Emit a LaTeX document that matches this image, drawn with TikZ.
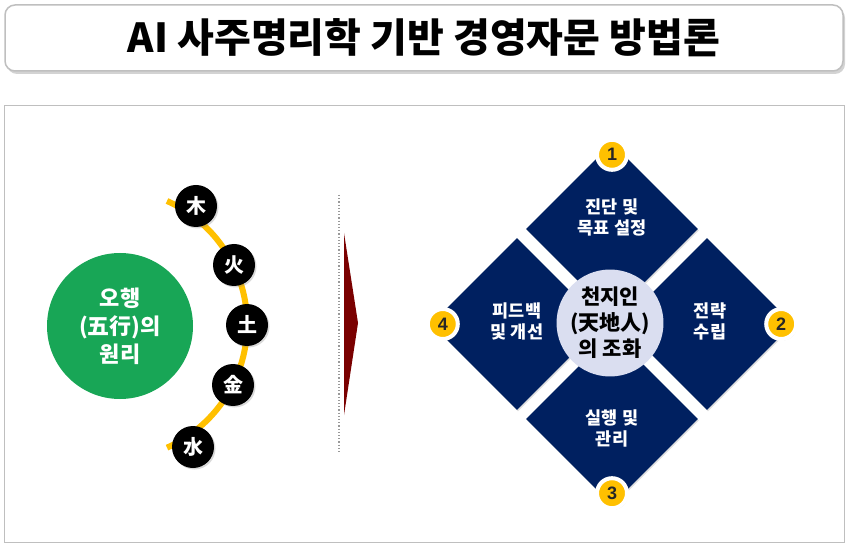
\documentclass[tikz,border=0pt]{standalone}
\usepackage{fontspec}
\setmainfont{Noto Sans CJK KR}
\newfontfamily\numfont{Liberation Sans}
\usepackage{tikz}
\usetikzlibrary{positioning,shapes.geometric,shadows}

\definecolor{navy}{HTML}{002060}
\definecolor{gold}{HTML}{FFC000}
\definecolor{leafgreen}{RGB}{24,166,86}
\definecolor{lavender}{RGB}{218,222,240}
\definecolor{darkred}{RGB}{122,0,0}
\definecolor{boxgray}{RGB}{191,191,191}
\definecolor{numdark}{RGB}{38,38,38}

\begin{document}
\begin{tikzpicture}[%
			x=1pt,
			y=1pt,
			titlebox/.style={%
				rounded corners=10pt,
				draw=boxgray,
				line width=1.5pt,
				fill=white,
				minimum width=838pt,
				minimum height=66pt,
				font=\fontsize{40}{40}\selectfont\bfseries,
				drop shadow={opacity=0.35,shadow xshift=2pt,shadow yshift=-3pt}
			},
			tile/.style={%
				diamond,
				aspect=1,
				minimum width=172pt,
				minimum height=172pt,
				inner sep=0pt,
				fill=navy,
				drop shadow={opacity=0.25,shadow xshift=1pt,shadow yshift=-1.5pt}
			},
			tiletext/.style={%
				text=white,
				align=center,
				font=\fontsize{17.5}{21}\selectfont\bfseries
			},
			elem/.style={%
				circle,
				fill=black,
				minimum size=42pt,
				inner sep=0pt,
				text=white,
				font=\fontsize{20}{20}\selectfont\bfseries,
				drop shadow={opacity=0.3,shadow xshift=1.5pt,shadow yshift=-1.5pt}
			},
			num/.style={%
				circle,
				fill=gold,
				draw=white,
				line width=4pt,
				minimum size=30pt,
				inner sep=0pt,
				text=numdark,
				font=\numfont\fontsize{18}{18}\selectfont\bfseries,
				drop shadow={opacity=0.3,shadow xshift=1pt,shadow yshift=-1.5pt}
			}
			]
			\useasboundingbox (0,0) rectangle (850,549);

			% title
			\node[titlebox] (t) at (424,511) {AI 사주명리학 기반 경영자문 방법론};
			\draw[boxgray, line width=1pt] (4,7) rectangle (844,443);

			% five elements
			\draw[gold, line width=6pt] (167,348) arc[start angle=66, end angle=-66, radius=135];
			\node[circle, fill=leafgreen, minimum size=146pt, text=white, align=center,
				font=\fontsize{22}{28}\selectfont\bfseries] (g) at (120,223) {오행\\(五行)의\\원리};
			\node[elem] (e1) at (196,343) {木};
			\node[elem] (e2) at (234,284) {火};
			\node[elem] (e3) at (247,224) {土};
			\node[elem] (e4) at (233,164) {金};
			\node[elem] (e5) at (193,102) {水};

			% divider and arrow
			\coordinate (s1) at (339,354);
			\coordinate (s2) at (339,97);
			\draw[gray!80, dotted, line width=1.2pt] (s1) -- (s2);
			\fill[darkred] (344,316) -- (358,226) -- (344,134) -- cycle;

			% four steps
			\node[tile] (d1) at (612,320) {};
			\node[tile] (d2) at (707,225) {};
			\node[tile] (d3) at (612,130) {};
			\node[tile] (d4) at (517,225) {};
			\node[tiletext] (l1) at ([yshift=12pt]d1.center) {진단 및\\목표 설정};
			\node[tiletext] (l2) at ([xshift=3pt,yshift=3pt]d2.center) {전략\\수립};
			\node[tiletext] (l3) at ([yshift=-9pt]d3.center) {실행 및\\관리};
			\node[tiletext] (l4) at ([yshift=3pt]d4.center) {피드백\\및 개선};
			\node[circle, fill=lavender, minimum size=94pt, inner sep=0pt, align=center,
				font=\fontsize{21}{26}\selectfont\bfseries] (c) at (610,226) {천지인\\(天地人)\\의 조화};
			\node[num] (n1) at ([yshift=-12pt]d1.north) {1};
			\node[num] (n2) at ([xshift=-12pt]d2.east) {2};
			\node[num] (n3) at ([yshift=12pt]d3.south) {3};
			\node[num] (n4) at ([xshift=12pt]d4.west) {4};
\end{tikzpicture}
\end{document}
